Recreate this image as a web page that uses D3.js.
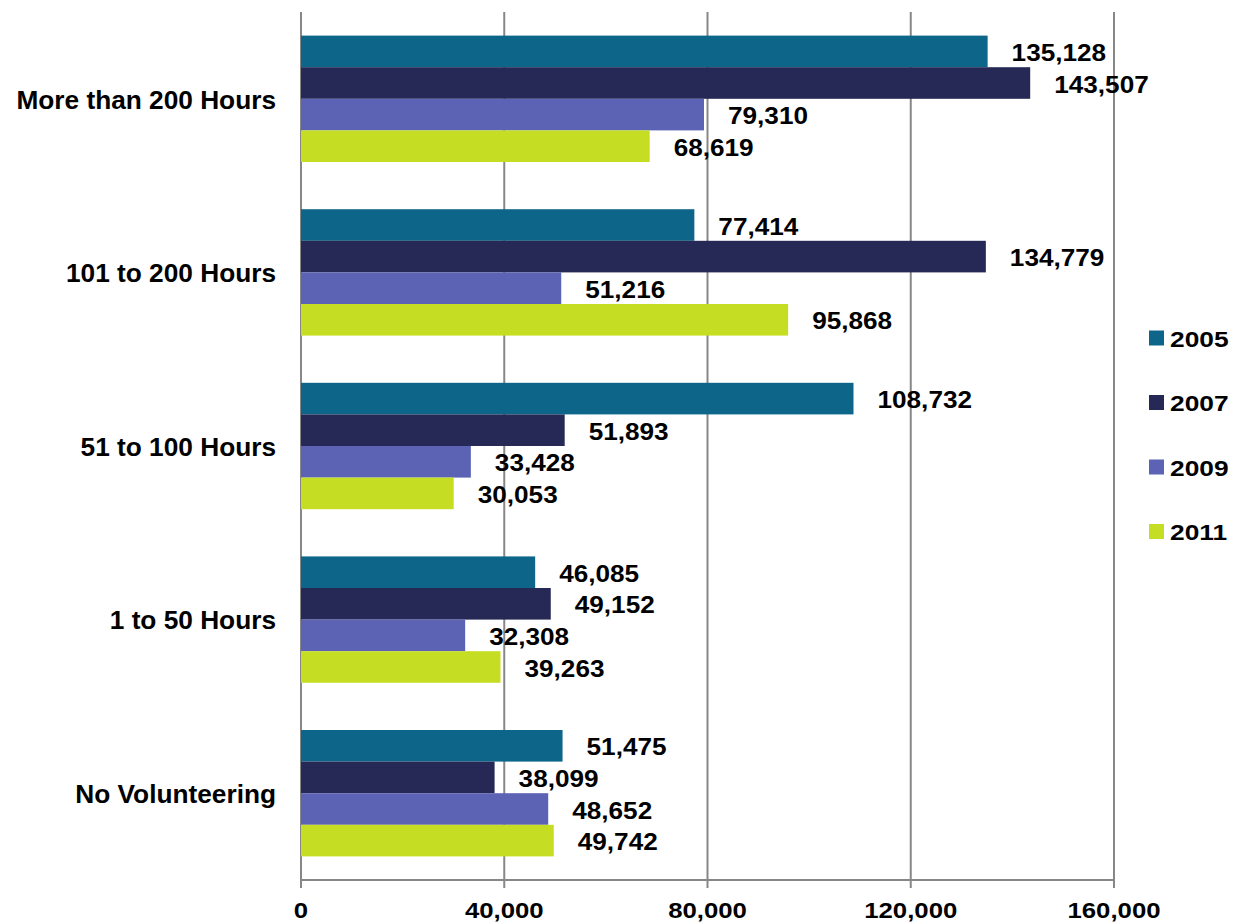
<!DOCTYPE html>
<html><head><meta charset="utf-8">
<script src="https://cdn.jsdelivr.net/npm/d3@7"></script>
<style>body{margin:0;background:#fff}svg{display:block}text{font-family:"Liberation Sans",Arial,sans-serif;font-weight:bold;fill:#000}</style>
</head><body>
<script>
const categories = ["More than 200 Hours","101 to 200 Hours","51 to 100 Hours","1 to 50 Hours","No Volunteering"];
const years = ["2005","2007","2009","2011"];
const values2005 = [135128, 77414, 108732, 46085, 51475];
const values2007 = [143507, 134779, 51893, 49152, 38099];
const values2009 = [79310, 51216, 33428, 32308, 48652];
const values2011 = [68619, 95868, 30053, 39263, 49742];
const xTicks = [0, 40000, 80000, 120000, 160000];
const colors = ["#0d6689", "#262855", "#5c63b5", "#c5de23"];

const series = [values2005, values2007, values2009, values2011];
const W = 1236, H = 923;
const pLeft = 301, pRight = 1114, pTop = 12, pBottom = 880;
const svg = d3.select("body").append("svg").attr("width", W).attr("height", H);

const x = d3.scaleLinear().domain([0, 160000]).range([pLeft, pRight]);
const y = d3.scaleBand().domain(categories).range([pTop, pBottom]).paddingInner(0.272).paddingOuter(0.136);
const y1 = d3.scaleBand().domain(years).range([0, y.bandwidth()]);
const fmt = d3.format(",");

// gridlines
svg.append("g").selectAll("line").data(xTicks).join("line")
  .attr("x1", d => x(d)).attr("x2", d => x(d)).attr("y1", pTop).attr("y2", pBottom + 8)
  .attr("stroke", "#878787").attr("stroke-width", 2);
// baseline
svg.append("line").attr("x1", pLeft).attr("x2", pRight).attr("y1", pBottom).attr("y2", pBottom)
  .attr("stroke", "#878787").attr("stroke-width", 2);

// tick labels
svg.append("g").selectAll("text").data(xTicks).join("text")
  .attr("transform", d => `translate(${x(d)},910) scale(1.17,1)`)
  .attr("text-anchor", "middle")
  .attr("dominant-baseline", "central").style("font-size", "22px").text(d => fmt(d));

// bars
const groups = svg.append("g").selectAll("g").data(categories).join("g")
  .attr("transform", c => `translate(0,${y(c)})`);
years.forEach((yr, si) => {
  groups.append("rect")
    .attr("x", x(0)).attr("y", y1(yr))
    .attr("width", (c, i) => x(series[si][i]) - x(0))
    .attr("height", y1.bandwidth())
    .attr("fill", colors[si]);
});
years.forEach((yr, si) => {
  groups.append("text")
    .attr("transform", (c, i) => `translate(${x(series[si][i]) + 24},${y1(yr) + y1.bandwidth() / 2 + 1}) scale(1.09,1)`)
    .attr("dominant-baseline", "central")
    .style("font-size", "24px")
    .text((c, i) => fmt(series[si][i]));
});

// category labels
svg.append("g").selectAll("text").data(categories).join("text")
  .attr("transform", c => `translate(276,${y(c) + y.bandwidth() / 2 + 1}) scale(1.05,1)`)
  .attr("text-anchor", "end").attr("dominant-baseline", "central")
  .style("font-size", "25px").text(c => c);

// legend
const legend = svg.append("g").selectAll("g").data(years).join("g")
  .attr("transform", (d, i) => `translate(1149,${338 + i * 64.5})`);
legend.append("rect").attr("x", 0).attr("y", -7.5).attr("width", 15).attr("height", 15)
  .attr("fill", (d, i) => colors[i]);
legend.append("text").attr("transform", "translate(21,1) scale(1.17,1)").attr("dominant-baseline", "central")
  .style("font-size", "22.5px").text(d => d);
</script>
</body></html>
